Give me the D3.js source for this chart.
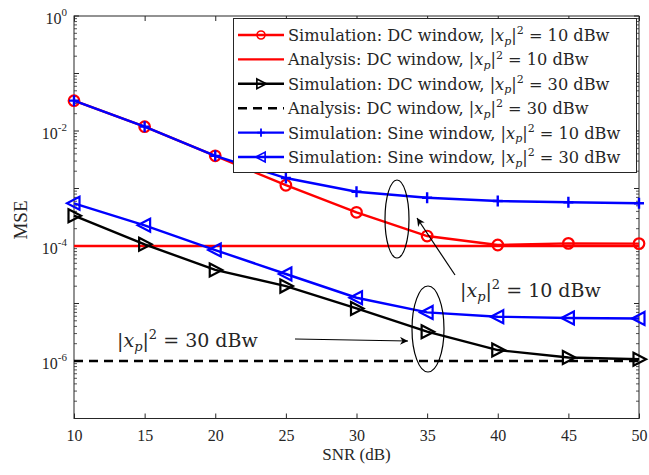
<!DOCTYPE html>
<html lang="en">
	<head>
		<meta charset="utf-8">
		<title>MSE vs SNR</title>
		<script type="text/javascript" src="https://cdn.jsdelivr.net/npm/d3@7/dist/d3.min.js"></script>
		<style>
			body { margin: 0; background: #fff; }
			text { font-family: "Liberation Serif", "DejaVu Serif", serif; fill: #262626; }
			.wide { font-family: "DejaVu Serif", serif; }
		</style>
	</head>
	<body>
		<script type="text/javascript">

			var w = 649;
			var h = 475;

			var snr = [10, 15, 20, 25, 30, 35, 40, 45, 50];

			var simDc10 = [3.37e-2, 1.19e-2, 3.7e-3, 1.14e-3, 3.85e-4, 1.49e-4, 1.04e-4, 1.11e-4, 1.1e-4];
			var anaDc10 = [1e-4, 1e-4, 1e-4, 1e-4, 1e-4, 1e-4, 1e-4, 1e-4, 1e-4];
			var simDc30 = [3.36e-4, 1.07e-4, 3.83e-5, 2.01e-5, 8.2e-6, 3.23e-6, 1.55e-6, 1.15e-6, 1.07e-6];
			var anaDc30 = [1e-6, 1e-6, 1e-6, 1e-6, 1e-6, 1e-6, 1e-6, 1e-6, 1e-6];
			var simSin10 = [3.37e-2, 1.19e-2, 3.7e-3, 1.52e-3, 8.8e-4, 6.9e-4, 6.06e-4, 5.75e-4, 5.53e-4];
			var simSin30 = [5.53e-4, 2.29e-4, 8.5e-5, 3.26e-5, 1.26e-5, 7.0e-6, 5.9e-6, 5.6e-6, 5.5e-6];

			var xTicks = [10, 15, 20, 25, 30, 35, 40, 45, 50];
			var yTickExps = [0, -2, -4, -6];

			var series = [
				{ name: "Simulation: DC window, ", level: "10", values: simDc10, color: "#ff0000", marker: "circle", dash: null },
				{ name: "Analysis: DC window, ", level: "10", values: anaDc10, color: "#ff0000", marker: null, dash: null },
				{ name: "Simulation: DC window, ", level: "30", values: simDc30, color: "#000000", marker: "tri-right", dash: null },
				{ name: "Analysis: DC window, ", level: "30", values: anaDc30, color: "#000000", marker: null, dash: "9,6" },
				{ name: "Simulation: Sine window, ", level: "10", values: simSin10, color: "#0000ff", marker: "plus", dash: null },
				{ name: "Simulation: Sine window, ", level: "30", values: simSin30, color: "#0000ff", marker: "tri-left", dash: null }
			];

			var plotLeft = 74, plotRight = 639, plotTop = 16, plotBottom = 418.5;

			var xScale = d3.scaleLinear()
						   .domain([10, 50])
						   .range([plotLeft, plotRight]);

			var yScale = d3.scaleLog()
						   .domain([1e-7, 1])
						   .range([plotBottom, plotTop]);

			var svg = d3.select("body")
						.append("svg")
						.attr("width", w)
						.attr("height", h);

			// axes, ticks pointing inside
			svg.append("g")
			   .attr("transform", "translate(0," + plotBottom + ")")
			   .call(d3.axisBottom(xScale).tickValues(xTicks).tickSizeInner(-5).tickSizeOuter(0).tickPadding(11))
			   .call(function(g) {
				   g.select(".domain").remove();
				   g.selectAll("line").attr("stroke", "#262626");
				   g.selectAll("text").attr("font-size", "16px").attr("font-family", "Liberation Serif").attr("fill", "#262626");
			   });

			svg.append("g")
			   .attr("transform", "translate(0," + plotTop + ")")
			   .call(d3.axisTop(xScale).tickValues(xTicks).tickSizeInner(-5).tickSizeOuter(0).tickFormat(""))
			   .call(function(g) {
				   g.select(".domain").remove();
				   g.selectAll("line").attr("stroke", "#262626");
			   });

			// log minor ticks on both sides
			var minorTicks = [];
			for (var e = -7; e < 0; e++) {
				for (var m = 2; m <= 9; m++) minorTicks.push(m * Math.pow(10, e));
			}
			var majorTicks = d3.range(-7, 1).map(function(e) { return Math.pow(10, e); });

			[[plotLeft, 1], [plotRight, -1]].forEach(function(side) {
				svg.append("g")
				   .selectAll("line")
				   .data(minorTicks)
				   .enter()
				   .append("line")
				   .attr("x1", side[0])
				   .attr("x2", side[0] + side[1] * 3)
				   .attr("y1", function(d) { return yScale(d); })
				   .attr("y2", function(d) { return yScale(d); })
				   .attr("stroke", "#262626")
				   .attr("stroke-width", 0.8);
				svg.append("g")
				   .selectAll("line")
				   .data(majorTicks)
				   .enter()
				   .append("line")
				   .attr("x1", side[0])
				   .attr("x2", side[0] + side[1] * 5)
				   .attr("y1", function(d) { return yScale(d); })
				   .attr("y2", function(d) { return yScale(d); })
				   .attr("stroke", "#262626");
			});

			var yLabels = svg.append("g")
							 .selectAll("text")
							 .data(yTickExps)
							 .enter()
							 .append("text")
							 .attr("x", plotLeft - 7)
							 .attr("y", function(d) { return yScale(Math.pow(10, d)) + 8; })
							 .attr("text-anchor", "end")
							 .attr("font-size", "16px");
			yLabels.append("tspan").text("10");
			yLabels.append("tspan")
				   .attr("dy", -8)
				   .attr("font-size", "11px")
				   .text(function(d) { return d; });

			// frame
			svg.append("rect")
			   .attr("x", plotLeft)
			   .attr("y", plotTop)
			   .attr("width", plotRight - plotLeft)
			   .attr("height", plotBottom - plotTop)
			   .attr("fill", "none")
			   .attr("stroke", "#262626")
			   .attr("stroke-width", 1);

			svg.append("text")
			   .attr("x", (plotLeft + plotRight) / 2)
			   .attr("y", 460)
			   .attr("text-anchor", "middle")
			   .attr("font-size", "17px")
			   .text("SNR (dB)");

			svg.append("text")
			   .attr("transform", "translate(27,220) rotate(-90)")
			   .attr("text-anchor", "middle")
			   .attr("font-size", "19px")
			   .text("MSE");

			// lines and markers
			var line = d3.line()
						 .x(function(d, i) { return xScale(snr[i]); })
						 .y(function(d) { return yScale(d); });

			function drawMarker(g, type, color) {
				if (type === "circle") {
					g.append("circle").attr("r", 5.3).attr("fill", "none").attr("stroke", color).attr("stroke-width", 2.2);
				} else if (type === "plus") {
					g.append("path").attr("d", "M-5,0H5M0,-5.5V5.5").attr("stroke", color).attr("stroke-width", 2.4);
				} else if (type === "tri-right") {
					g.append("path").attr("d", "M-5.5,-6.5L7,0L-5.5,6.5Z").attr("fill", "none").attr("stroke", color).attr("stroke-width", 2.2);
				} else if (type === "tri-left") {
					g.append("path").attr("d", "M5.5,-6.5L-7,0L5.5,6.5Z").attr("fill", "none").attr("stroke", color).attr("stroke-width", 2.2);
				}
			}

			series.forEach(function(s) {
				svg.append("path")
				   .datum(s.values)
				   .attr("d", line)
				   .attr("fill", "none")
				   .attr("stroke", s.color)
				   .attr("stroke-width", 2.4)
				   .attr("stroke-dasharray", s.dash);
				if (s.marker) {
					svg.append("g")
					   .selectAll("g")
					   .data(s.values)
					   .enter()
					   .append("g")
					   .attr("transform", function(d, i) { return "translate(" + xScale(snr[i]) + "," + yScale(d) + ")"; })
					   .each(function() { drawMarker(d3.select(this), s.marker, s.color); });
				}
			});

			// |x_p|^2 = N dBw, as tspans
			function mathLabel(t, level, size) {
				var sub = Math.round(size * 0.7);
				t.append("tspan").text("|");
				t.append("tspan").attr("font-style", "italic").text("x");
				t.append("tspan").attr("font-style", "italic").attr("font-size", sub + "px").attr("dy", size * 0.22).text("p");
				t.append("tspan").attr("dy", -size * 0.22).text("|");
				t.append("tspan").attr("font-size", sub + "px").attr("dy", -size * 0.42).text("2");
				t.append("tspan").attr("dy", size * 0.42).text(" = " + level + " dBw");
			}

			// legend
			var legend = svg.append("g");
			legend.append("rect")
				  .attr("x", 233.5)
				  .attr("y", 18.5)
				  .attr("width", 403)
				  .attr("height", 154)
				  .attr("fill", "#fff")
				  .attr("stroke", "#262626")
				  .attr("stroke-width", 1);

			series.forEach(function(s, i) {
				var cy = 35 + i * 24.4;
				var row = legend.append("g");
				row.append("line")
				   .attr("x1", 238)
				   .attr("x2", 284)
				   .attr("y1", cy)
				   .attr("y2", cy)
				   .attr("stroke", s.color)
				   .attr("stroke-width", 2.4)
				   .attr("stroke-dasharray", s.dash);
				if (s.marker) {
					var mg = row.append("g").attr("transform", "translate(261," + cy + ") scale(0.75)");
					drawMarker(mg, s.marker, s.color);
				}
				var t = row.append("text")
						   .attr("class", "wide")
						   .attr("x", 288)
						   .attr("y", cy + 6)
						   .attr("font-size", "16.2px")
						   .attr("fill", "#000");
				t.append("tspan").text(s.name);
				mathLabel(t, s.level, 16.2);
			});

			// annotations
			var notes = svg.append("g").attr("fill", "none").attr("stroke", "#000").attr("stroke-width", 1.2);
			notes.append("ellipse").attr("cx", 397).attr("cy", 219).attr("rx", 12).attr("ry", 39);
			notes.append("ellipse").attr("cx", 428).attr("cy", 329).attr("rx", 16).attr("ry", 43);

			svg.append("defs")
			   .append("marker")
			   .attr("id", "arrow")
			   .attr("viewBox", "0 0 10 10")
			   .attr("refX", 10)
			   .attr("refY", 5)
			   .attr("markerWidth", 10)
			   .attr("markerHeight", 8)
			   .attr("markerUnits", "userSpaceOnUse")
			   .attr("orient", "auto")
			   .append("path")
			   .attr("d", "M0,0L10,5L0,10L3,5Z")
			   .attr("fill", "#000");

			notes.append("line").attr("x1", 455).attr("y1", 275).attr("x2", 417).attr("y2", 218).attr("marker-end", "url(#arrow)");
			notes.append("line").attr("x1", 295).attr("y1", 339).attr("x2", 408).attr("y2", 341).attr("marker-end", "url(#arrow)");

			var n1 = svg.append("text").attr("class", "wide").attr("x", 460).attr("y", 297).attr("font-size", "19px").attr("fill", "#000");
			mathLabel(n1, "10", 19);
			var n2 = svg.append("text").attr("class", "wide").attr("x", 117).attr("y", 347).attr("font-size", "19px").attr("fill", "#000");
			mathLabel(n2, "30", 19);
		</script>
	</body>
</html>
